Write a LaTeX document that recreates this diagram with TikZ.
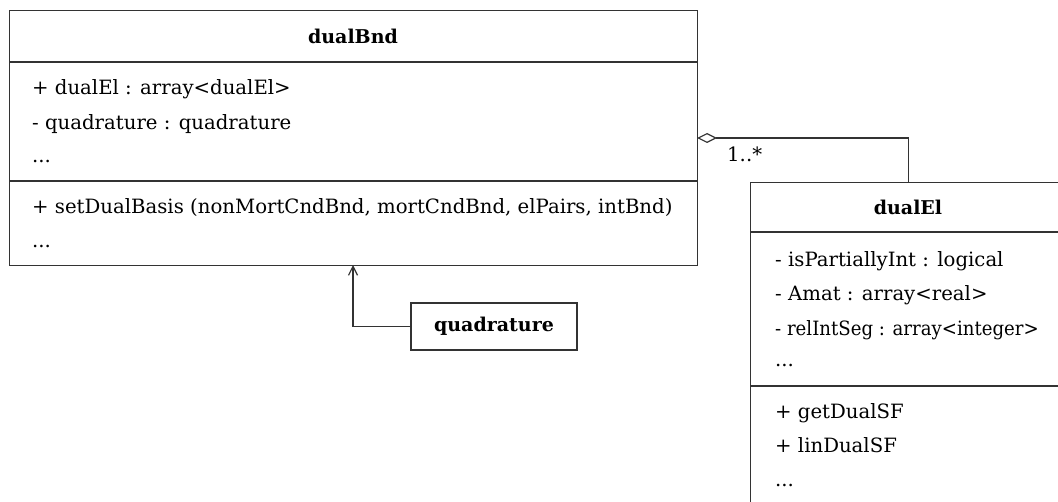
\documentclass[tikz,border=0pt]{standalone}
\usepackage{fontspec}
\setmainfont{DejaVu Serif}
\usetikzlibrary{arrows.meta}
\begin{document}
\begin{tikzpicture}[x=1pt,y=-1pt,
  box/.style={draw=black!80,line width=1.2pt,rectangle,inner sep=0pt},
  txt/.style={anchor=base west,inner sep=0pt,font=\fontsize{19.7}{24}\selectfont},
  ttl/.style={anchor=base,inner sep=0pt,font=\fontsize{19}{23}\selectfont\bfseries},
  ln/.style={draw=black!80,line width=1.2pt}]
\useasboundingbox (0,0) rectangle (1058,502);
% dualBnd class
\node[box,minimum width=688pt,minimum height=255pt,anchor=north west] (bnd) at (9,10) {};
\draw[ln] (9,62) -- (697,62);
\draw[ln] (9,181) -- (697,181);
\node[ttl] (bndT) at (353,44) {dualBnd};
\node[txt] (bndA1) at (32,95) {+ dualEl : array<dualEl>};
\node[txt] (bndA2) at (32,130) {- quadrature : quadrature};
\node[txt] (bndA3) at (32,163) {...};
\node[txt] (bndM1) at (32,214) {+ setDualBasis (nonMortCndBnd, mortCndBnd, elPairs, intBnd)};
\node[txt] (bndM2) at (32,248) {...};
% dualEl class
\node[box,minimum width=316pt,minimum height=340pt,anchor=north west] (el) at (750,182) {};
\draw[ln] (750,232) -- (1070,232);
\draw[ln] (750,386) -- (1070,386);
\node[ttl] (elT) at (908,215) {dualEl};
\node[txt] (elA1) at (775,267) {- isPartiallyInt : logical};
\node[txt] (elA2) at (775,301) {- Amat : array<real>};
\node[txt] (elA3) at (775,336) {\scalebox{0.92}[1]{- relIntSeg : array<integer>}};
\node[txt] (elA4) at (775,367) {...};
\node[txt] (elM1) at (775,419) {+ getDualSF};
\node[txt] (elM2) at (775,453) {+ linDualSF};
\node[txt] (elM3) at (775,486) {...};
% quadrature class
\node[box,minimum width=166pt,minimum height=47pt,font=\fontsize{19}{23}\selectfont\bfseries] (quad) at (494,326.5) {quadrature};
% connectors
\coordinate (aggEnd) at (697,138);
\draw[ln,-{Diamond[open,length=20pt,width=10pt,line width=1.2pt]}] (el.north) |- (aggEnd);
\node[txt] (mult) at (727,162) {1..*};
\coordinate (genEnd) at (353,265);
\draw[ln,-{Straight Barb[length=9pt,width=9pt,line width=1.2pt]}] (quad.west) -| (genEnd);
\end{tikzpicture}
\end{document}
